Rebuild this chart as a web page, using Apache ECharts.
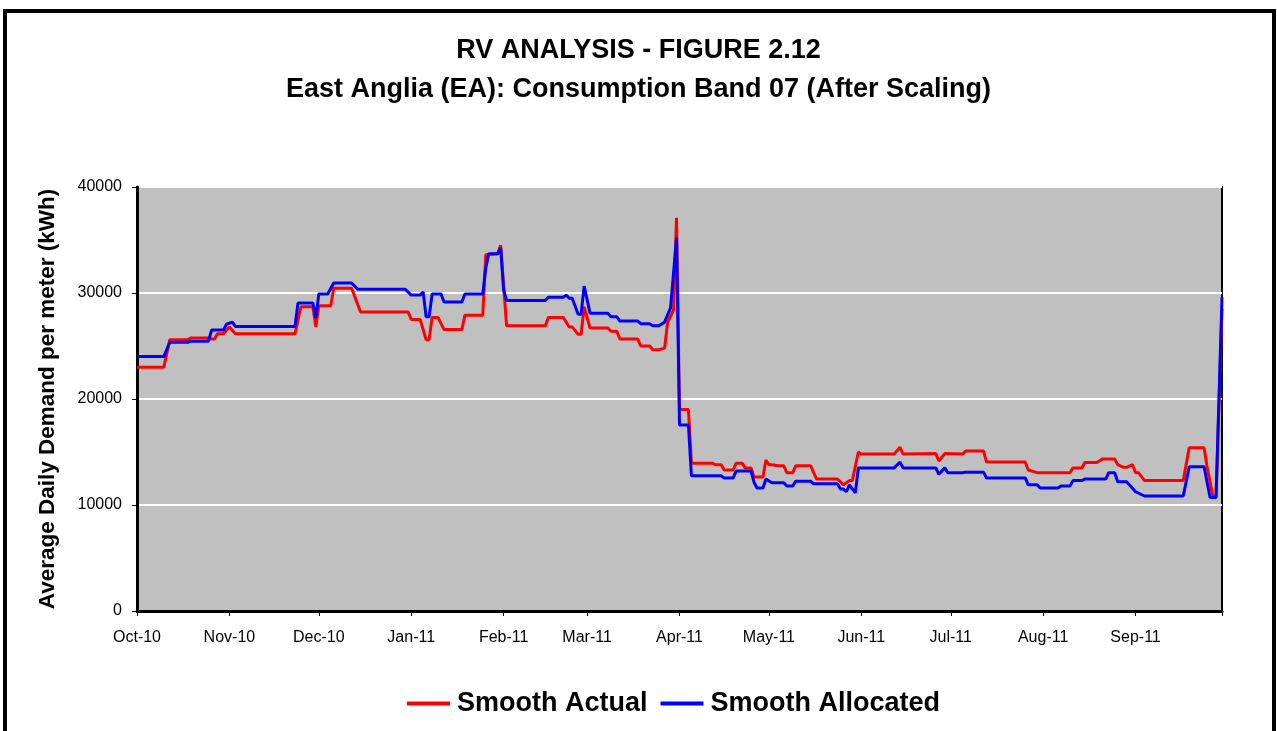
<!DOCTYPE html>
<html>
<head>
<meta charset="utf-8">
<script src="https://cdn.jsdelivr.net/npm/echarts@6/dist/echarts.min.js"></script>
<style>
html,body{margin:0;padding:0;background:#fff;}
#chart{width:1277px;height:731px;}
</style>
</head>
<body>
<div id="chart"></div>
<script>
// Month tick labels (first day of each month, Oct 2010 - Sep 2011)
const monthLabels = ['Oct-10','Nov-10','Dec-10','Jan-11','Feb-11','Mar-11','Apr-11','May-11','Jun-11','Jul-11','Aug-11','Sep-11'];
const monthDates = [[2010,9],[2010,10],[2010,11],[2011,0],[2011,1],[2011,2],[2011,3],[2011,4],[2011,5],[2011,6],[2011,7],[2011,8]];
const startDate = [2010,9,1];
const endDate = [2011,8,30];
const yTicks = [0,10000,20000,30000,40000];

// Smooth Actual: [day since 1 Oct 2010, kWh] at each vertex of the line
const smoothActual = [[0,23000],[9,23000],[11,25600],[17,25600],[18,25750],[24,25750],[25,25650],[26,25650],[27,26150],[29,26150],[31,26800],[33,26150],[53,26150],[55,28700],[59,28700],[60,26800],[61,28800],[65,28800],[66,30450],[72,30450],[75,28200],[91,28200],[92,27500],[95,27500],[97,25600],[98,25600],[99,27700],[101,27700],[103,26550],[109,26550],[110,27900],[116,27900],[117,33600],[121,33700],[122,34500],[124,26900],[137,26900],[138,27700],[143,27700],[145,26800],[146,26800],[148,26100],[149,26100],[150,28700],[152,26700],[158,26700],[159,26400],[161,26400],[162,25650],[168,25650],[169,25000],[172,25000],[173,24650],[175,24650],[177,24800],[178,27200],[180,28400],[181,37100],[182,19000],[185,19000],[186,13950],[193,13950],[194,13800],[196,13800],[197,13300],[200,13300],[201,13950],[203,13950],[204,13500],[206,13500],[207,12650],[210,12650],[211,14250],[212,13800],[213,13800],[215,13700],[217,13700],[218,13050],[220,13050],[221,13700],[226,13700],[228,12450],[235,12450],[237,11900],[239,12300],[240,12300],[242,15000],[243,14800],[254,14800],[256,15450],[257,14800],[268,14850],[269,14150],[271,14850],[277,14800],[278,15100],[284,15100],[285,14050],[298,14050],[299,13300],[302,13050],[313,13050],[314,13500],[317,13500],[318,14000],[322,14000],[324,14350],[328,14350],[329,13800],[331,13550],[332,13550],[334,13800],[335,13050],[336,13050],[338,12300],[351,12300],[353,15400],[358,15400],[359,13600],[361,10750],[362,10750],[364,28500]];

// Smooth Allocated
const smoothAllocated = [[0,24000],[9,24000],[11,25350],[17,25350],[18,25450],[24,25450],[25,26500],[29,26500],[30,27050],[32,27250],[33,26850],[53,26850],[54,29050],[59,29050],[60,27650],[61,29900],[64,29900],[66,30950],[72,30950],[74,30350],[90,30350],[92,29800],[95,29800],[96,30100],[97,27750],[98,27750],[99,29900],[102,29900],[103,29150],[109,29150],[110,29900],[116,29900],[117,32350],[118,33700],[121,33700],[122,34250],[123,30300],[124,29300],[137,29300],[138,29600],[143,29600],[144,29800],[145,29500],[146,29500],[148,28000],[149,28000],[150,30650],[152,28100],[158,28100],[159,27750],[161,27750],[162,27350],[168,27350],[169,27100],[172,27100],[173,26900],[175,26900],[177,27250],[179,28600],[181,35200],[182,17550],[185,17550],[186,12750],[196,12750],[197,12550],[200,12550],[201,13200],[206,13200],[207,12150],[208,11600],[210,11600],[211,12450],[213,12100],[217,12100],[218,11800],[220,11800],[221,12250],[226,12250],[227,12000],[235,12000],[236,11500],[237,11500],[238,11250],[239,11900],[241,11150],[242,13500],[254,13500],[256,14050],[257,13500],[268,13500],[269,12900],[271,13500],[272,13050],[277,13050],[278,13100],[284,13100],[285,12550],[298,12550],[299,11900],[302,11900],[303,11600],[309,11600],[310,11800],[313,11800],[314,12300],[317,12300],[318,12450],[325,12450],[326,13050],[328,13050],[329,12200],[332,12200],[335,11250],[338,10850],[351,10850],[353,13600],[358,13600],[360,10700],[362,10700],[364,29600]];

const DAY = 86400000;
const t0 = Date.UTC(startDate[0], startDate[1], startDate[2]);
const monthDays = monthDates.map(d => Math.round((Date.UTC(d[0], d[1], 1) - t0) / DAY));
const lastDay = Math.round((Date.UTC(endDate[0], endDate[1], endDate[2]) - t0) / DAY);

const FONT = "'Liberation Sans', Arial, sans-serif";
const chart = echarts.init(document.getElementById('chart'), null, {renderer: 'canvas'});
chart.setOption({
  backgroundColor: '#ffffff',
  animation: false,
  graphic: [{
    type: 'rect', z: 100, silent: true,
    shape: {x: 5, y: 11, width: 1269, height: 760},
    style: {fill: 'none', stroke: '#000', lineWidth: 4}
  }],
  title: {
    text: 'RV ANALYSIS - FIGURE 2.12\nEast Anglia (EA): Consumption Band 07 (After Scaling)',
    left: 'center', top: 26,
    textStyle: {fontFamily: FONT, fontSize: 27, fontWeight: 'bold', color: '#000', lineHeight: 39}
  },
  legend: {
    bottom: 9, left: 402,
    icon: 'rect', itemWidth: 43, itemHeight: 4, itemGap: 13,
    textStyle: {fontFamily: FONT, fontSize: 27, fontWeight: 'bold', color: '#000', padding: [0, 0, 0, 2]},
    data: ['Smooth Actual', 'Smooth Allocated']
  },
  grid: {
    left: 137, right: 55, top: 187, bottom: 120,
    show: true, backgroundColor: '#C0C0C0', borderColor: '#000', borderWidth: 2
  },
  xAxis: {
    type: 'value', min: 0, max: lastDay,
    splitLine: {show: false},
    axisLine: {show: true, lineStyle: {color: '#000', width: 3}},
    axisTick: {show: true, length: 5, customValues: monthDays.concat([lastDay]), lineStyle: {color: '#000', width: 1}},
    axisLabel: {
      customValues: monthDays, margin: 19,
      fontFamily: FONT, fontSize: 16, color: '#000',
      formatter: v => monthLabels[monthDays.indexOf(Math.round(v))] || ''
    }
  },
  yAxis: {
    type: 'value', min: yTicks[0], max: yTicks[yTicks.length - 1], interval: 10000,
    name: 'Average Daily Demand per meter (kWh)',
    nameLocation: 'middle', nameGap: 78,
    nameTextStyle: {fontFamily: FONT, fontSize: 22.5, fontWeight: 'bold', color: '#000'},
    axisLine: {show: true, lineStyle: {color: '#000', width: 3}},
    axisTick: {show: true, length: 5, lineStyle: {color: '#000', width: 1}},
    axisLabel: {margin: 15, fontFamily: FONT, fontSize: 16, color: '#000', formatter: v => String(v)},
    splitLine: {show: true, lineStyle: {color: '#ffffff', width: 2}}
  },
  series: [
    {name: 'Smooth Actual', type: 'line', data: smoothActual, symbol: 'none', color: '#FF0000',
     lineStyle: {color: '#FF0000', width: 3}, z: 2},
    {name: 'Smooth Allocated', type: 'line', data: smoothAllocated, symbol: 'none', color: '#0000FF',
     lineStyle: {color: '#0000FF', width: 3}, z: 3}
  ]
});
</script>
</body>
</html>
